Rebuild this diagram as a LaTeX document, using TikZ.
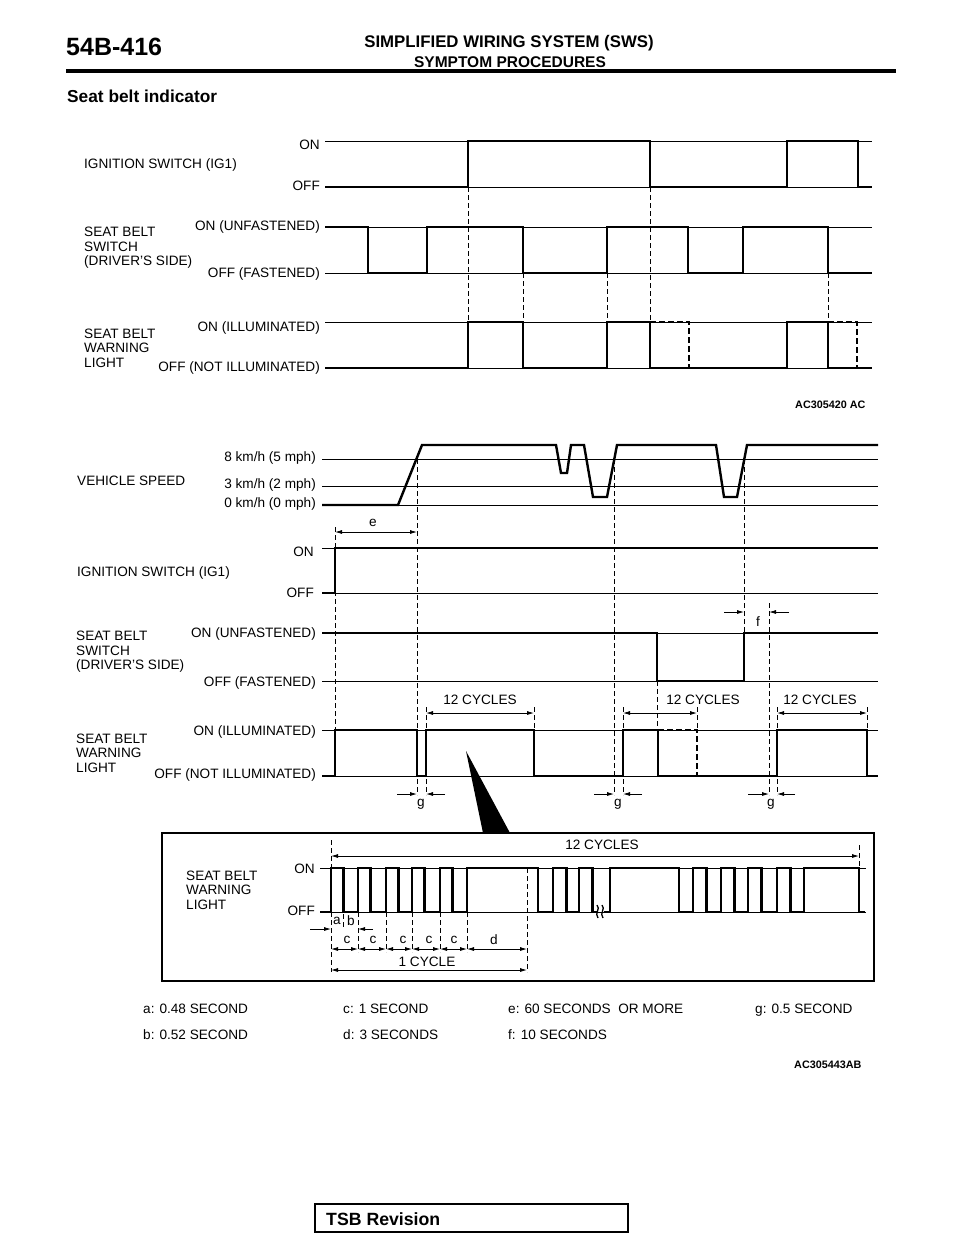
\documentclass[tikz,border=0pt]{standalone}
\usepackage{fontspec}
\setmainfont{Liberation Sans}
\usetikzlibrary{arrows.meta}
\newcommand{\lblfont}{\fontsize{13.6}{14.5}\selectfont}
\newcommand{\codefont}{\fontsize{10.8}{12}\selectfont\bfseries}

\begin{document}
\begin{tikzpicture}[
    x=1pt, y=-1pt,
    sig/.style={line width=2.4pt, line join=miter},
    sigdash/.style={sig, dash pattern=on 6pt off 3pt},
    lvl/.style={line width=0.8pt},
    guide/.style={line width=0.8pt, dash pattern=on 5pt off 3pt},
    dim/.style={{Latex[length=7pt,width=4pt]}-{Latex[length=7pt,width=4pt]}, line width=0.8pt},
    onearrow/.style={-{Latex[length=7pt,width=4pt]}, line width=0.8pt},
    txt/.style={font=\lblfont, inner sep=0pt, text height=9.8pt, text depth=0pt},
    signame/.style={font=\lblfont, inner sep=0pt, anchor=west, align=left},
    lvltxt/.style={txt, anchor=east},
    figcode/.style={font=\codefont, inner sep=0pt, anchor=west}
]
\fill[white] (0,0) rectangle (960,1242);
\useasboundingbox (0,0) rectangle (960,1242);

% --- page header ---
\node[font=\fontsize{25}{28}\selectfont\bfseries, inner sep=0pt, anchor=base west] (pageno) at (66,55) {54B-416};
\node[font=\fontsize{16.8}{18}\selectfont\bfseries, inner sep=0pt] (title) at (509,43) {SIMPLIFIED WIRING SYSTEM (SWS)};
\node[font=\fontsize{15.5}{17}\selectfont\bfseries, inner sep=0pt] (subtitle) at (510,62) {SYMPTOM PROCEDURES};
\draw[line width=3.5pt] (66,71) -- (896,71);
\node[font=\fontsize{17.3}{19}\selectfont\bfseries, inner sep=0pt, anchor=west] (heading) at (67,96) {Seat belt indicator};

% --- chart 1: ignition switch ---
\node[signame] (ignA) at (84,165) {IGNITION SWITCH (IG1)};
\node[lvltxt] (ignAon) at (320,145) {ON};
\node[lvltxt] (ignAoff) at (320,186) {OFF};
\draw[lvl] (325,141) -- (872,141) (325,187) -- (872,187);
\draw[sig] (325,187) -- (468,187) -- (468,141) -- (650,141) -- (650,187) -- (787,187)
    -- (787,141) -- (858,141) -- (858,187) -- (872,187);

% --- chart 1: seat belt switch ---
\node[signame] (beltA) at (84,248) {SEAT BELT\\SWITCH\\(DRIVER'S SIDE)};
\node[lvltxt] (beltAon) at (320,226) {ON (UNFASTENED)};
\node[lvltxt] (beltAoff) at (320,273) {OFF (FASTENED)};
\draw[lvl] (325,227) -- (872,227) (325,273) -- (872,273);
\draw[sig] (325,227) -- (368,227) -- (368,273) -- (427,273) -- (427,227) -- (523,227)
    -- (523,273) -- (607,273) -- (607,227) -- (688,227) -- (688,273) -- (743,273)
    -- (743,227) -- (828,227) -- (828,273) -- (872,273);

% --- chart 1: warning light ---
\node[signame] (lampA) at (84,348) {SEAT BELT\\WARNING\\LIGHT};
\node[lvltxt] (lampAon) at (320,327) {ON (ILLUMINATED)};
\node[lvltxt] (lampAoff) at (320,367) {OFF (NOT ILLUMINATED)};
\draw[lvl] (325,322) -- (872,322) (325,368) -- (872,368);
\draw[sig] (325,368) -- (468,368) -- (468,322) -- (523,322) -- (523,368) -- (607,368)
    -- (607,322) -- (650,322) -- (650,368) -- (787,368) -- (787,322) -- (828,322)
    -- (828,368) -- (872,368);
\draw[sigdash] (650,322) -- (689,322) -- (689,368);
\draw[sigdash] (828,322) -- (857,322) -- (857,368);

% guides
\draw[guide] (468,187) -- (468,322) (650,187) -- (650,322);
\draw[guide] (523,273) -- (523,322) (607,273) -- (607,322) (828,273) -- (828,322);

\node[figcode] (codeA) at (795,405) {AC305420 AC};

% --- chart 2: vehicle speed ---
\node[signame] (speed) at (77,481) {VEHICLE SPEED};
\node[lvltxt] (spd8) at (316,457) {8 km/h (5 mph)};
\node[lvltxt] (spd3) at (316,484) {3 km/h (2 mph)};
\node[lvltxt] (spd0) at (316,503) {0 km/h (0 mph)};
\draw[lvl] (322,459) -- (878,459) (322,486) -- (878,486) (322,505) -- (878,505);
\draw[sig] (322,505) -- (398,505) -- (422,445) -- (556,445) -- (561,473) -- (567,473)
    -- (571,445) -- (584,445) -- (593,497) -- (607,497) -- (617,445) -- (716,445)
    -- (724,497) -- (737,497) -- (747,445) -- (878,445);

% --- chart 2: ignition switch ---
\node[signame] (ignB) at (77,573) {IGNITION SWITCH (IG1)};
\node[lvltxt] (ignBon) at (314,552) {ON};
\node[lvltxt] (ignBoff) at (314,593) {OFF};
\draw[lvl] (322,548) -- (878,548) (322,593) -- (878,593);
\draw[sig] (322,593) -- (335,593) -- (335,548) -- (878,548);

% --- chart 2: seat belt switch ---
\node[signame] (beltB) at (76,652) {SEAT BELT\\SWITCH\\(DRIVER'S SIDE)};
\node[lvltxt] (beltBon) at (316,633) {ON (UNFASTENED)};
\node[lvltxt] (beltBoff) at (316,682) {OFF (FASTENED)};
\draw[lvl] (322,633) -- (878,633) (322,681) -- (878,681);
\draw[sig] (322,633) -- (657,633) -- (657,681) -- (744,681) -- (744,633) -- (878,633);

% --- chart 2: warning light ---
\node[signame] (lampB) at (76,753) {SEAT BELT\\WARNING\\LIGHT};
\node[lvltxt] (lampBon) at (316,731) {ON (ILLUMINATED)};
\node[lvltxt] (lampBoff) at (316,774) {OFF (NOT ILLUMINATED)};
\draw[lvl] (322,730) -- (878,730) (322,776) -- (878,776);
\draw[sig] (322,776) -- (335,776) -- (335,730) -- (417,730) -- (417,776) -- (426,776)
    -- (426,730) -- (534,730) -- (534,776) -- (623,776) -- (623,730) -- (658,730)
    -- (658,776) -- (777,776) -- (777,730) -- (867,730) -- (867,776) -- (878,776);
\draw[sigdash] (658,730) -- (697,730) -- (697,776);

% guides
\draw[guide] (335,527) -- (335,730);
\draw[guide] (417,459) -- (417,795) (614,459) -- (614,795) (744,459) -- (744,633);
\draw[guide] (769,603) -- (769,795) (657,681) -- (657,730);
\draw[guide] (426,707) -- (426,795) (623,707) -- (623,795) (777,707) -- (777,795);
\draw[guide] (534,707) -- (534,730) (697,707) -- (697,730) (867,707) -- (867,730);

% e, f, g
\draw[dim] (335,532) -- (417,532);
\node[txt] (dimE) at (373,522) {e};
\draw[onearrow] (724,612) -- (744,612);
\draw[onearrow] (789,612) -- (769,612);
\node[txt] (dimF) at (758,622) {f};
\draw[onearrow] (397,794) -- (417,794);
\draw[onearrow] (445,794) -- (426,794);
\node[txt] (dimG1) at (421,802) {g};
\draw[onearrow] (594,794) -- (614,794);
\draw[onearrow] (642,794) -- (623,794);
\node[txt] (dimG2) at (618,802) {g};
\draw[onearrow] (748,794) -- (769,794);
\draw[onearrow] (795,794) -- (777,794);
\node[txt] (dimG3) at (771,802) {g};

% 12 cycles
\draw[dim] (426,713) -- (534,713);
\node[txt] (cycB1) at (480,700) {12 CYCLES};
\draw[dim] (623,713) -- (697,713);
\node[txt] (cycB2) at (703,700) {12 CYCLES};
\draw[dim] (777,713) -- (867,713);
\node[txt] (cycB3) at (820,700) {12 CYCLES};

% pointer to detail
\fill (466,751) -- (483,833) -- (510,833) -- cycle;

% --- detail: one warning sequence ---
\draw[line width=1.5pt] (162,833) rectangle (874,981);
\node[signame] (lampC) at (186,890) {SEAT BELT\\WARNING\\LIGHT};
\node[lvltxt] (lampCon) at (315,869) {ON};
\node[lvltxt] (lampCoff) at (315,911) {OFF};
\draw[lvl] (320,868) -- (866,868) (320,912) -- (866,912);
\draw[sig] (320,912) \foreach \x in {331,358,386,412,440} {
        -- (\x,912) -- (\x,868) -- (\x+12.5,868) -- (\x+12.5,912) }
    -- (467,912) -- (467,868) -- (538,868) -- (538,912)
    \foreach \x in {553,579} {
        -- (\x,912) -- (\x,868) -- (\x+13.5,868) -- (\x+13.5,912) }
    -- (597,912);
\draw[sig] (604,912) -- (610,912) -- (610,868) -- (679,868) -- (679,912)
    \foreach \x in {693,721,748,777} {
        -- (\x,912) -- (\x,868) -- (\x+13.5,868) -- (\x+13.5,912) }
    -- (804,912) -- (804,868) -- (859,868) -- (859,912) -- (865,912);
\draw[line width=1.3pt] (597,905) .. controls (601,909) and (594,913) .. (598,918);
\draw[line width=1.3pt] (602,905) .. controls (606,909) and (599,913) .. (603,918);

% detail dimensions
\draw[guide] (331,840) -- (331,972) (859,845) -- (859,868) (527,868) -- (527,972);
\draw[guide] (343,914) -- (343,928);
\draw[guide] (358,912) -- (358,952) (386,912) -- (386,952) (412,912) -- (412,952)
    (440,912) -- (440,952) (467,912) -- (467,952);
\draw[dim] (331,856) -- (859,856);
\node[txt] (cycC) at (602,845) {12 CYCLES};
\node[txt] (dimA) at (337,920) {a};
\node[txt] (dimB) at (351,921) {b};
\draw[onearrow] (310,929) -- (331,929);
\draw[onearrow] (373,929) -- (358,929);
\draw[dim] (331,949) -- (358,949);
\draw[dim] (358,949) -- (386,949);
\draw[dim] (386,949) -- (412,949);
\draw[dim] (412,949) -- (440,949);
\draw[dim] (440,949) -- (467,949);
\draw[dim] (467,949) -- (527,949);
\node[txt] (dimC1) at (347,939) {c};
\node[txt] (dimC2) at (373,939) {c};
\node[txt] (dimC3) at (403,939) {c};
\node[txt] (dimC4) at (429,939) {c};
\node[txt] (dimC5) at (454,939) {c};
\node[txt] (dimD) at (494,940) {d};
\draw[dim] (331,970) -- (527,970);
\node[txt] (oneCyc) at (427,962) {1 CYCLE};

% --- key ---
\node[txt, anchor=west] (keyA) at (143,1009) {a: 0.48 SECOND};
\node[txt, anchor=west] (keyB) at (143,1035) {b: 0.52 SECOND};
\node[txt, anchor=west] (keyC) at (343,1009) {c: 1 SECOND};
\node[txt, anchor=west] (keyD) at (343,1035) {d: 3 SECONDS};
\node[txt, anchor=west] (keyE) at (508,1009) {e: 60 SECONDS\ \ OR MORE};
\node[txt, anchor=west] (keyF) at (508,1035) {f: 10 SECONDS};
\node[txt, anchor=west] (keyG) at (755,1009) {g: 0.5 SECOND};
\node[figcode] (codeB) at (794,1065) {AC305443AB};

% --- footer ---
\draw[line width=1.3pt] (315,1204) rectangle (628,1232);
\node[font=\fontsize{17.7}{19}\selectfont\bfseries, inner sep=0pt, anchor=west] (tsb) at (326,1219) {TSB Revision};

\end{tikzpicture}
\end{document}
